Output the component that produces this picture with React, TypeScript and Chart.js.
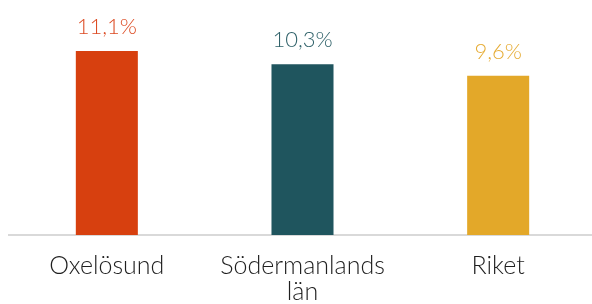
import React, { useEffect, useRef } from 'react';
import { Chart, registerables } from 'chart.js';

Chart.register(...registerables);

const categories: string[][] = [['Oxelösund'], ['Södermanlands', 'län'], ['Riket']];
const values: number[] = [11.1, 10.3, 9.6];
const barColors: string[] = ['#D7400F', '#1F555E', '#E3A829'];
const labelColors: string[] = ['#DC4A22', '#2F6169', '#E6AC35'];

const FONT = 'Lato, "Open Sans", sans-serif';

const valueLabels = {
  id: 'valueLabels',
  afterDatasetsDraw(chart: any) {
    const ctx = chart.ctx;
    const meta = chart.getDatasetMeta(0);
    ctx.save();
    ctx.font = `300 22px ${FONT}`;
    ctx.textAlign = 'center';
    ctx.textBaseline = 'alphabetic';
    meta.data.forEach((el: any, i: number) => {
      ctx.fillStyle = labelColors[i];
      ctx.fillText(values[i].toFixed(1).replace('.', ',') + '%', el.x, el.y - 17);
    });
    ctx.restore();
  },
};

export default function App() {
  const ref = useRef<HTMLCanvasElement | null>(null);

  useEffect(() => {
    if (!ref.current) return;
    const chart = new Chart(ref.current, {
      type: 'bar',
      data: {
        labels: categories,
        datasets: [
          {
            data: values,
            backgroundColor: barColors,
            borderWidth: 0,
            barPercentage: 0.317,
            categoryPercentage: 1,
          },
        ],
      },
      options: {
        responsive: false,
        animation: false,
        devicePixelRatio: 1,
        layout: { padding: { top: 36, left: 9, right: 0, bottom: 0 } },
        plugins: {
          legend: { display: false },
          tooltip: { enabled: false },
        },
        scales: {
          x: {
            grid: { display: false, drawTicks: false },
            border: { display: true, color: '#d9d9d9', width: 2 },
            ticks: {
              color: '#1f1f1f',
              font: { family: FONT, size: 25, weight: 300 as any, lineHeight: 1.03 },
              padding: 18,
              maxRotation: 0,
              autoSkip: false,
            },
            afterFit(scale: any) {
              scale.height = 69;
            },
          },
          y: {
            display: false,
            min: 0,
            max: 12,
          },
        },
      },
      plugins: [valueLabels],
    });
    return () => chart.destroy();
  }, []);

  return (
    <div style={{ position: 'fixed', left: 0, top: 0, width: 592, height: 304, overflow: 'hidden', background: '#fff' }}>
      <canvas ref={ref} width={596} height={304} style={{ display: 'block', width: 596, height: 304 }} />
    </div>
  );
}
